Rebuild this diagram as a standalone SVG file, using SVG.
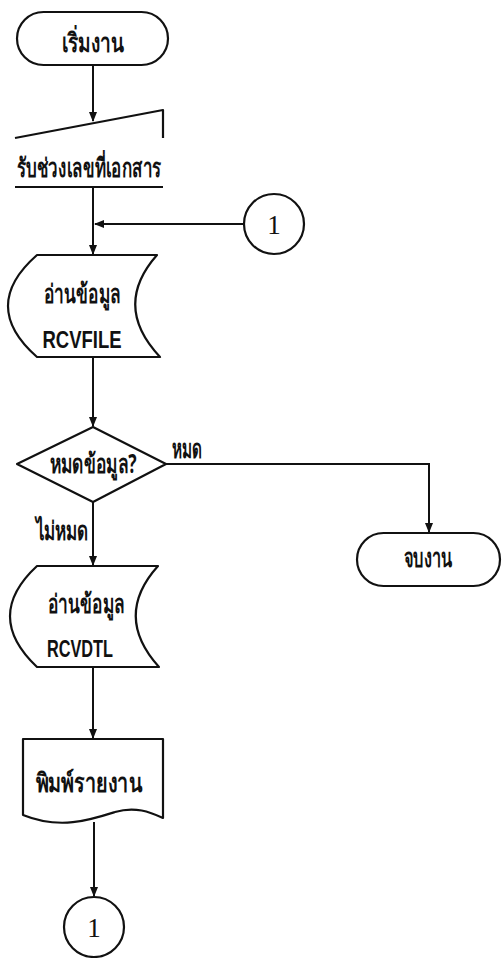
<svg xmlns="http://www.w3.org/2000/svg" width="503" height="958" viewBox="0 0 503 958">
<style>
.s{fill:none;stroke:#111;stroke-width:2.2;stroke-linejoin:round}
.c{fill:none;stroke:#111;stroke-width:2}
.t{font-family:"Noto Sans","DejaVu Sans","Liberation Sans",sans-serif;font-weight:bold;font-size:26px;fill:#111;text-anchor:middle}
.e{font-family:"Liberation Sans","DejaVu Sans",sans-serif;font-weight:bold;font-size:23px;fill:#111;text-anchor:middle}
.n{font-family:"Liberation Serif","DejaVu Serif",serif;font-size:27px;fill:#111;text-anchor:middle}
</style>
<defs>
<marker id="ah" markerWidth="10" markerHeight="8" refX="9" refY="4" orient="auto" markerUnits="userSpaceOnUse">
<path d="M0,0 L10,4 L0,8 Z" fill="#111"/>
</marker>
</defs>
<g id="connectors">
<path class="c" d="M93,65 V121" marker-end="url(#ah)"/>
<path class="c" d="M93,187 V254" marker-end="url(#ah)"/>
<path class="c" d="M244,224 H95" marker-end="url(#ah)"/>
<path class="c" d="M93,357 V426" marker-end="url(#ah)"/>
<path class="c" d="M166,464 H429 V532" marker-end="url(#ah)"/>
<path class="c" d="M93,502 V565" marker-end="url(#ah)"/>
<path class="c" d="M93,667 V738" marker-end="url(#ah)"/>
<path class="c" d="M94,822 V896" marker-end="url(#ah)"/>
<text class="t" x="187" y="458" textLength="30" lengthAdjust="spacingAndGlyphs">หมด</text>
<text class="t" x="62" y="540" textLength="53" lengthAdjust="spacingAndGlyphs">ไม่หมด</text>
</g>
<g id="start">
<rect class="s" x="17" y="12" width="151" height="53" rx="26.5"/>
<text class="t" x="93" y="52" textLength="63" lengthAdjust="spacingAndGlyphs">เริ่มงาน</text>
</g>
<g id="input">
<path class="s" d="M15,138 L163,110 V138"/>
<path class="s" d="M15,187 H163"/>
<text class="t" x="89" y="177" textLength="145" lengthAdjust="spacingAndGlyphs">รับช่วงเลขที่เอกสาร</text>
</g>
<g id="conn1">
<circle class="s" cx="274" cy="224" r="30"/>
<text class="n" x="274" y="234">1</text>
</g>
<g id="read1">
<path class="s" d="M37,255 H157 Q112,306 160,357 H37 Q-21,306 37,255 Z"/>
<text class="t" x="82" y="303" textLength="77" lengthAdjust="spacingAndGlyphs">อ่านข้อมูล</text>
<text class="e" x="82" y="348" textLength="79" lengthAdjust="spacingAndGlyphs">RCVFILE</text>
</g>
<g id="decision">
<path class="s" d="M93,427 L166,464 L93,502 L17,464 Z"/>
<text class="t" x="93" y="473" textLength="87" lengthAdjust="spacingAndGlyphs">หมดข้อมูล?</text>
</g>
<g id="end">
<rect class="s" x="357" y="533" width="143" height="53" rx="26.5"/>
<text class="t" x="428" y="567" textLength="49" lengthAdjust="spacingAndGlyphs">จบงาน</text>
</g>
<g id="read2">
<path class="s" d="M37,566 H158 Q113,616 159,667 H37 Q-17,616 37,566 Z"/>
<text class="t" x="86" y="613" textLength="77" lengthAdjust="spacingAndGlyphs">อ่านข้อมูล</text>
<text class="e" x="80" y="657" textLength="66" lengthAdjust="spacingAndGlyphs">RCVDTL</text>
</g>
<g id="report">
<path class="s" d="M23,739 H163 V818 C150,812 135,806 115,812 C90,820 60,830 23,815 Z"/>
<text class="t" x="89" y="792" textLength="107" lengthAdjust="spacingAndGlyphs">พิมพ์รายงาน</text>
</g>
<g id="conn2">
<circle class="s" cx="94" cy="927" r="30"/>
<text class="n" x="94" y="937">1</text>
</g>
</svg>
